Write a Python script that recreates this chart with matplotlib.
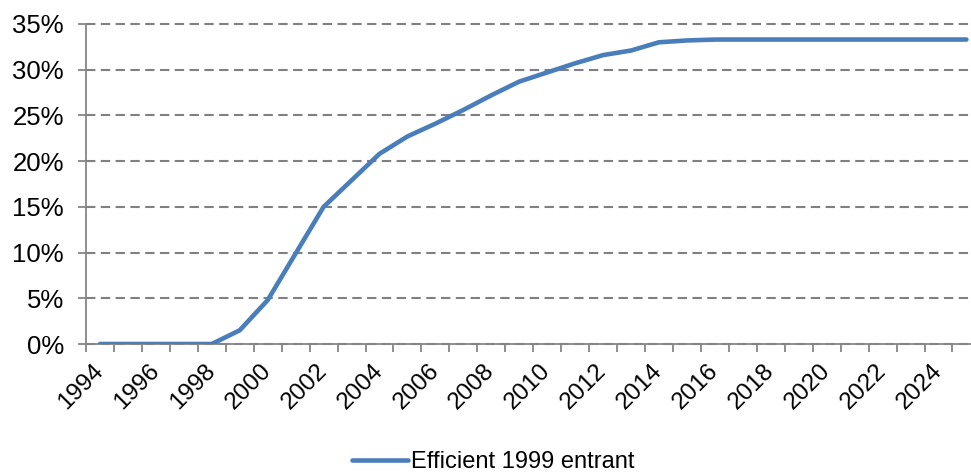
import matplotlib
matplotlib.use("Agg")
import matplotlib.pyplot as plt
from matplotlib.ticker import FuncFormatter, FixedLocator, MultipleLocator

years = list(range(1994, 2026))
share = [0.0, 0.0, 0.0, 0.0, 0.0, 1.5, 4.8, 9.9, 15.0, 17.9,
         20.8, 22.7, 24.1, 25.6, 27.2, 28.7, 29.7, 30.7, 31.6, 32.1,
         33.0, 33.2, 33.3, 33.3, 33.3, 33.3, 33.3, 33.3, 33.3, 33.3,
         33.3, 33.3]
tick_labels = [str(y) if (y - 1994) % 2 == 0 else "" for y in years]
series_name = "Efficient 1999 entrant"

plt.rcParams['font.family'] = ['Liberation Sans', 'DejaVu Sans']

W, H = 971, 475
fig = plt.figure(figsize=(W / 100, H / 100), dpi=100)
left = 86 / W
bottom = (H - 344) / H
top = (H - 24) / H
right = (86 + 32 * 27.95) / W
ax = fig.add_axes([left, bottom, right - left, top - bottom])

x = list(range(len(years)))
ax.plot(x, share, color='#4A7EBB', lw=3.3, solid_capstyle='round',
        solid_joinstyle='round', label=series_name, zorder=3)

ax.set_xlim(-0.5, len(years) - 0.5)
ax.set_ylim(0, 35)
ax.yaxis.set_major_locator(MultipleLocator(5))
ax.yaxis.set_major_formatter(FuncFormatter(lambda v, p: f"{v:.0f}%"))

ax.xaxis.set_major_locator(FixedLocator(x))
ax.set_xticklabels(tick_labels, rotation=45, ha='right', va='center',
                   rotation_mode='anchor')
ax.xaxis.set_minor_locator(FixedLocator([i - 0.5 for i in range(len(years) + 1)]))
ax.tick_params(axis='x', which='major', length=0, pad=17, labelsize=17.5)
ax.tick_params(axis='x', which='minor', length=6, width=1.3, color='#868686')
ax.tick_params(axis='y', length=6, width=1.3, color='#868686', pad=10, labelsize=18.5)

ax.grid(axis='y', color='#808080', lw=1.5, linestyle=(0, (4.5, 2.6)))
for gl in ax.get_ygridlines():
    gl.set_clip_on(False)
ax.set_axisbelow(True)
for s in ['top', 'right']:
    ax.spines[s].set_visible(False)
for s in ['left', 'bottom']:
    ax.spines[s].set_color('#868686')
    ax.spines[s].set_linewidth(1.3)

fig.legend(loc='center', bbox_to_anchor=(493 / W, 1 - 462 / H), frameon=False,
           fontsize=17, handlelength=2.4, handletextpad=0.1)

fig.savefig("out.png", dpi=100)
